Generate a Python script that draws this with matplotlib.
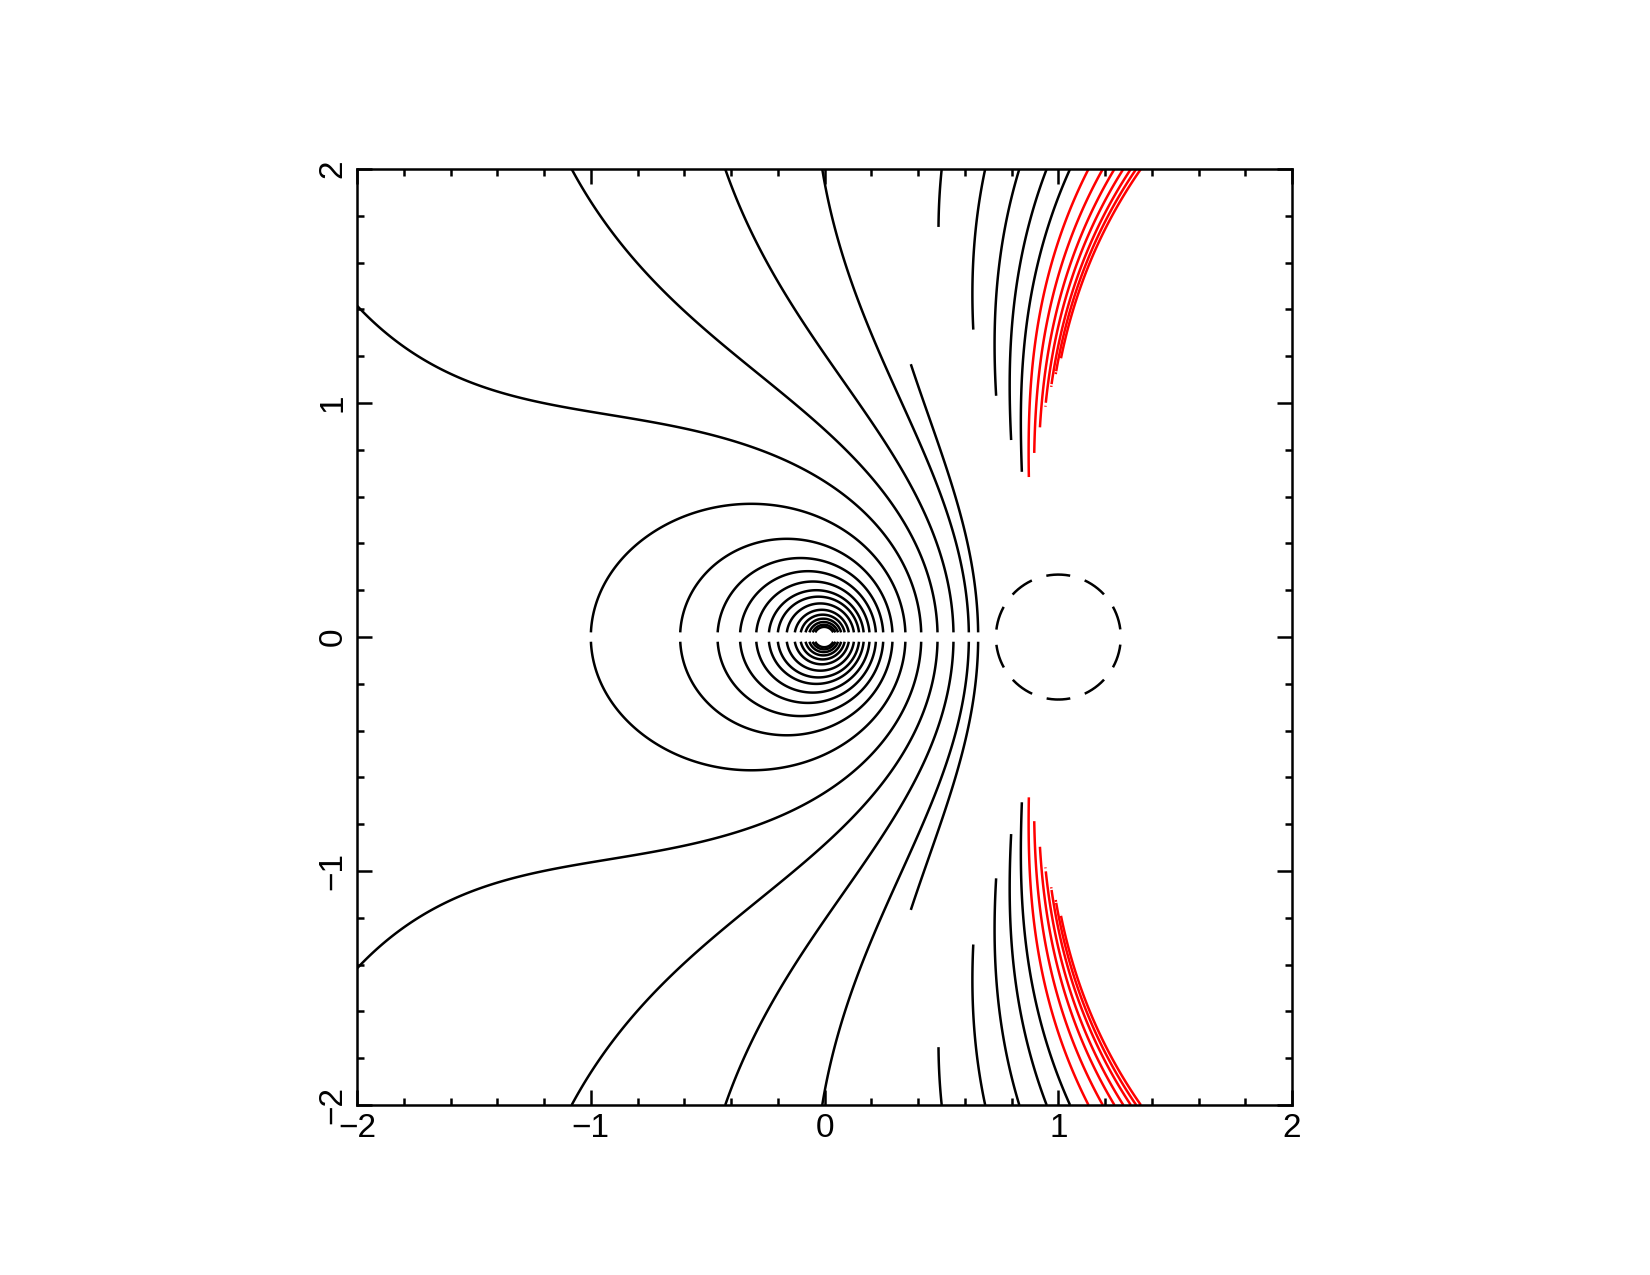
import numpy as np
import matplotlib
matplotlib.use("Agg")
import matplotlib.pyplot as plt

plt.rcParams["font.family"] = ["Liberation Sans", "DejaVu Sans"]

# 2-D log potential: sources on the x axis (position, strength) plus a weak drift
src_x = [0.0, 2.324]
src_q = [-1.0, 1.967]
drift = 0.030

# where the contours cross the plot
oval_left_x = [-1.0, -0.618, -0.458, -0.362, -0.293, -0.239, -0.201, -0.163,
               -0.129, -0.104, -0.084, -0.068, -0.055, -0.045]
# open lines: a far point of each line on the frame
open_far_x = [-2.0, -1.082, -0.425, -0.010, 0.364]
open_far_y = [1.416, 2.0, 2.0, 2.0, 1.181]
top_black_x = [0.501, 0.687, 0.833, 0.950, 1.050]
top_red_x = [1.129, 1.190, 1.240, 1.278, 1.310, 1.333, 1.353]

# blanked part of the grid
blank_y = [0.0, 1.0, 1.18, 2.0]
blank_x = [0.69, 0.53, 0.36, 0.10]
wedge_base = 0.68
wedge_left_y = [0.68, 2.0]
wedge_left_x = [0.85, 0.40]
wedge_right_y = [0.68, 1.024, 1.735, 2.0]
wedge_right_x = [0.875, 0.955, 1.205, 1.40]
gap_half = 0.018
core_r = 0.035

# dashed circle
circ_x, circ_y, circ_r = 1.0, 0.0, 0.267


def field(x, y):
    f = -drift * x
    for sx, q in zip(src_x, src_q):
        f = f + q * np.log(np.hypot(x - sx, y))
    return f


xs = np.linspace(-2, 2, 801)
X, Y = np.meshgrid(xs, xs)
with np.errstate(all="ignore"):
    Z = field(X, Y)

ay = np.abs(Y)
xb = np.interp(ay, blank_y, blank_x)
in_wedge = ((ay > wedge_base)
            & (X > np.interp(ay, wedge_left_y, wedge_left_x))
            & (X < np.interp(ay, wedge_right_y, wedge_right_x)))
blank = ((X > xb) & ~in_wedge) | (ay < gap_half) | (np.hypot(X, Y) < core_r)
Z = np.ma.masked_where(blank | ~np.isfinite(Z), Z)

black_lv = np.concatenate([
    field(np.array(oval_left_x), 0.0),
    field(np.array(open_far_x), np.array(open_far_y)),
    field(np.array(top_black_x), 2.0),
])
red_lv = field(np.array(top_red_x), 2.0)

fig = plt.figure(figsize=(11, 8.5), dpi=150)
ax = fig.add_axes([0.2164, 0.1333, 0.5667, 0.7341])

ax.contour(X, Y, Z, levels=np.sort(black_lv), colors="black",
           linewidths=1.2, linestyles="solid")
ax.contour(X, Y, Z, levels=np.sort(red_lv), colors="#ff0000",
           linewidths=1.2, linestyles="solid")

# circle drawn from the bottom so the dashes sit top/bottom, gaps left/right
t = np.linspace(-np.pi / 2, 1.5 * np.pi, 400)
ax.plot(circ_x + circ_r * np.cos(t), circ_y + circ_r * np.sin(t),
        color="black", lw=1.2, ls=(4.8, (9.6, 6.1)))

ax.set_xlim(-2, 2)
ax.set_ylim(-2, 2)
ax.set_xticks([-2, -1, 0, 1, 2])
ax.set_yticks([-2, -1, 0, 1, 2])
ax.set_xticks(np.arange(-2, 2.01, 0.2), minor=True)
ax.set_yticks(np.arange(-2, 2.01, 0.2), minor=True)
ax.tick_params(which="both", direction="in", top=True, right=True, width=1.2,
               labelsize=16)
ax.tick_params(which="major", length=7.2)
ax.tick_params(which="minor", length=3.4)
ax.tick_params(axis="x", pad=4)
ax.tick_params(axis="y", pad=4)
for lab in ax.get_yticklabels():
    lab.set_rotation(90)
    lab.set_va("center")
for s in ax.spines.values():
    s.set_linewidth(1.2)

fig.savefig("out.png", dpi=150)
